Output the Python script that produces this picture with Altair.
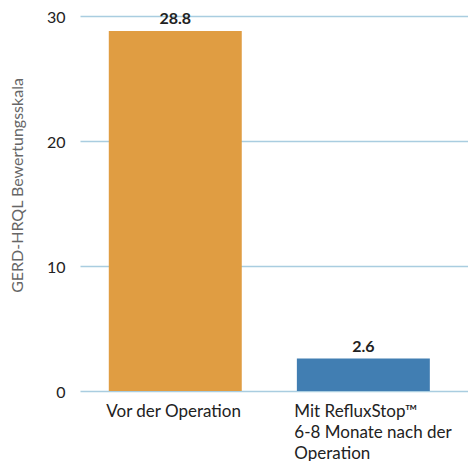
import altair as alt
import pandas as pd

categories = ["Vor der Operation", "Mit RefluxStop™|6-8 Monate nach der|Operation"]
values = [28.8, 2.6]
labels = ["28.8", "2.6"]
colors = ["#E09D42", "#417EB2"]
y_ticks = [0, 10, 20, 30]

df = pd.DataFrame({"cat": categories, "val": values, "lab": labels, "col": colors})

FONT = "Lato"

x = alt.X("cat:N", sort=categories, title=None,
          scale=alt.Scale(paddingInner=0.293, paddingOuter=0.178, align=0.43),
          axis=alt.Axis(labelAngle=0, labelAlign="left", labelOffset=-69,
                        labelFont=FONT, labelFontSize=17, labelColor="#222222",
                        labelLineHeight=21, labelPadding=12, labelBaseline="top",
                        labelExpr="split(datum.label, '|')",
                        ticks=False, domain=False, grid=False))
y = alt.Y("val:Q", title="GERD-HRQL Bewertungsskala",
          scale=alt.Scale(domain=[0, 30], nice=False),
          axis=alt.Axis(values=y_ticks, ticks=False, domain=False, labelPadding=15,
                        labelFont=FONT, labelFontSize=16, labelColor="#222222",
                        labelOffset=1,
                        gridColor="#A9CDE0", gridWidth=1.5,
                        titleFont=FONT, titleFontSize=16, titleFontWeight="normal",
                        titleColor="#666666", titleX=-58, titleY=169,
                        titleAngle=-90, titleAlign="center", titleBaseline="alphabetic"))

bars = alt.Chart(df).mark_bar().encode(
    x=x, y=y, color=alt.Color("col:N", scale=None)
)
text = alt.Chart(df).mark_text(font=FONT, fontSize=16, fontWeight="bold",
                               color="#222222", dy=-12).encode(
    x=alt.X("cat:N", sort=categories), y="val:Q", text="lab:N"
)

chart = (bars + text).properties(
    width=388, height=375,
    autosize=alt.AutoSizeParams(type="none"),
    padding={"left": 72, "top": 8, "right": 0, "bottom": 70},
).configure_view(stroke=None)

chart.save("out.html", embed_options={"renderer": "svg", "actions": False})
